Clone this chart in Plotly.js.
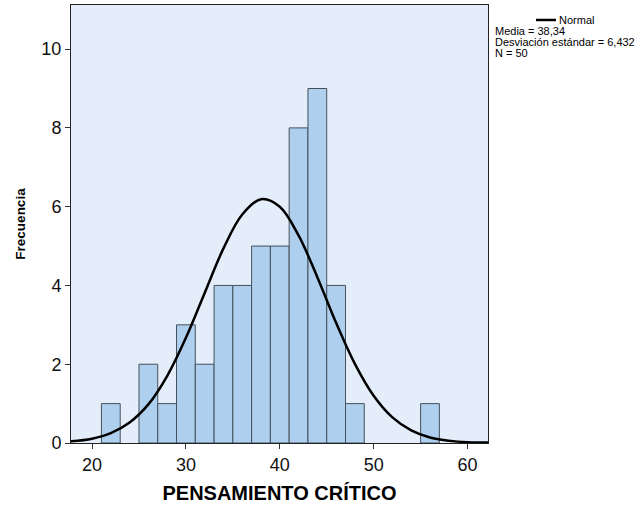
<!DOCTYPE html>
<html><head><meta charset="utf-8">
<script src="https://cdn.plot.ly/plotly-3.0.1.min.js"></script>
<style>html,body{margin:0;padding:0;background:#fff}#chart{width:641px;height:507px}</style>
</head><body><div id="chart"></div>
<script>
// Histogram bins (centres, width 2) and frequencies
const binCenters = [22, 26, 28, 30, 32, 34, 36, 38, 40, 42, 44, 46, 48, 56];
const counts     = [1, 2, 1, 3, 2, 4, 4, 5, 5, 8, 9, 4, 1, 1];
// Normal curve points
const curveX = [17.7, 20, 22, 24, 26, 28, 30, 32, 34, 36, 38, 40, 42, 44, 46, 48, 50, 52, 54, 56, 58, 60, 62.2];
const curveY = [0.04, 0.11, 0.25, 0.52, 0.98, 1.70, 2.67, 3.81, 4.94, 5.80, 6.19, 6.00, 5.27, 4.21, 3.05, 2.01, 1.20, 0.65, 0.32, 0.14, 0.06, 0.02, 0.01];
const xTicks = [20, 30, 40, 50, 60];
const yTicks = [0, 2, 4, 6, 8, 10];
const statsLines = ["Media = 38,34", "Desviación estándar = 6,432", "N = 50"];

const traces = [
  {type: 'bar', x: binCenters, y: counts, width: 2,
   marker: {color: 'rgb(174,207,237)', line: {color: 'rgb(70,80,90)', width: 1}},
   hoverinfo: 'skip', showlegend: false},
  {type: 'scatter', mode: 'lines', x: curveX, y: curveY,
   line: {color: '#000', width: 2.5, shape: 'spline'}, showlegend: false, hoverinfo: 'skip'}
];

const font = 'Liberation Sans, Arial, sans-serif';
const statsY = [0.9406, 0.9155, 0.8904];
const annotations = [
  {xref: 'paper', yref: 'paper', x: 1.166, y: 0.9658, xanchor: 'left', yanchor: 'middle',
   text: 'Normal', showarrow: false, font: {size: 11, color: '#000'}}
].concat(statsLines.map((t, i) => ({
  xref: 'paper', yref: 'paper', x: 1.012, y: statsY[i], xanchor: 'left', yanchor: 'middle',
  text: t, showarrow: false, font: {size: 11, color: '#000'}})));

const layout = {
  width: 641, height: 507,
  margin: {l: 71, r: 153, t: 5, b: 64},
  paper_bgcolor: '#fff', plot_bgcolor: 'rgb(228,238,250)',
  bargap: 0,
  font: {family: font, color: '#000'},
  xaxis: {range: [17.76, 62.18], tickvals: xTicks, ticktext: xTicks.map(String),
    ticks: 'outside', ticklen: 5, tickcolor: '#333', tickfont: {size: 18, color: '#111'},
    showgrid: false, zeroline: false, showline: true, linecolor: '#222', linewidth: 1, mirror: true,
    title: {text: '<b>PENSAMIENTO CRÍTICO</b>', font: {size: 20, color: '#000'}, standoff: 12}},
  yaxis: {range: [0, 11.12], tickvals: yTicks, ticktext: yTicks.map(String),
    ticks: 'outside', ticklen: 5, tickcolor: '#333', tickfont: {size: 18, color: '#111'},
    showgrid: false, zeroline: false, showline: true, linecolor: '#222', linewidth: 1, mirror: true,
    title: {text: '<b>Frecuencia</b>', font: {size: 13.5, color: '#000'}, standoff: 12}},
  shapes: [
    {type: 'line', xref: 'paper', yref: 'paper', x0: 1.115, x1: 1.163, y0: 0.9658, y1: 0.9658,
     line: {color: '#000', width: 2.5}}
  ],
  annotations: annotations
};
Plotly.newPlot('chart', traces, layout, {displayModeBar: false, staticPlot: true});
</script></body></html>
